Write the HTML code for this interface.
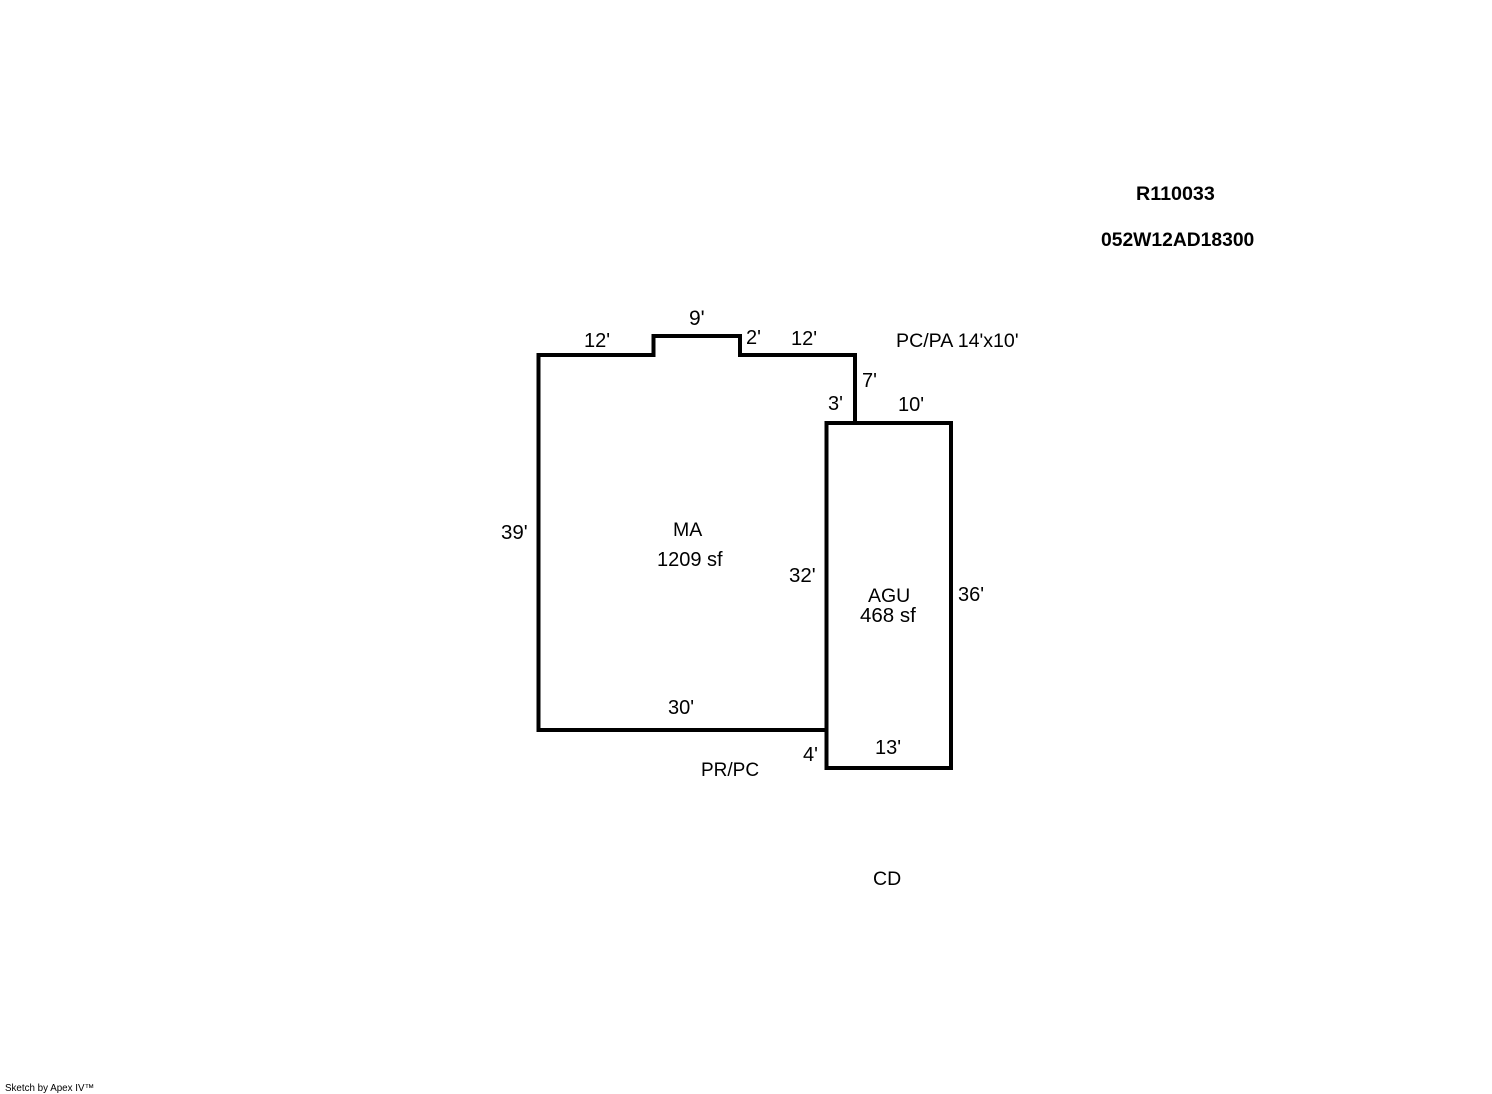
<!DOCTYPE html>
<html>
<head>
<meta charset="utf-8">
<style>
html,body{margin:0;padding:0;background:#fff;width:1492px;height:1094px;overflow:hidden}
svg{display:block}
text{font-family:"Liberation Sans",Arial,sans-serif;font-size:20px;fill:#000}
</style>
</head>
<body>
<svg width="1492" height="1094" viewBox="0 0 1492 1094" xmlns="http://www.w3.org/2000/svg">
<rect width="1492" height="1094" fill="#fff"/>
<g fill="none" stroke="#000" stroke-width="4" stroke-linejoin="miter" shape-rendering="crispEdges">
<path d="M826 730H538.500V355H653.500V336H740V355H855V423"/>
<path d="M826.500 423H951V768H826.500Z"/>
</g>
<text x="1136" y="200" style="font-weight:bold;font-size:19.700px">R110033</text>
<text x="1101" y="246" style="font-weight:bold;font-size:19.300px">052W12AD18300</text>
<text x="584" y="347">12'</text>
<text x="689" y="325" style="font-size:21px">9'</text>
<text x="746" y="344">2'</text>
<text x="791" y="345">12'</text>
<text x="896" y="347" style="font-size:19.600px">PC/PA 14'x10'</text>
<text x="862" y="387">7'</text>
<text x="828" y="410">3'</text>
<text x="898" y="411">10'</text>
<text x="501" y="539" style="font-size:20.500px">39'</text>
<text x="673" y="536" style="font-size:19.500px">MA</text>
<text x="657" y="566">1209 sf</text>
<text x="789" y="582" style="font-size:20.500px">32'</text>
<text x="868" y="602" style="font-size:19.500px">AGU</text>
<text x="860" y="622" style="font-size:20.500px">468 sf</text>
<text x="958" y="601">36'</text>
<text x="668" y="714">30'</text>
<text x="875" y="754">13'</text>
<text x="803" y="761">4'</text>
<text x="701" y="776" style="font-size:19px">PR/PC</text>
<text x="873" y="885" style="font-size:19.500px">CD</text>
<text x="5" y="1091" style="font-size:9.800px">Sketch by Apex IV™</text>
</svg>
</body>
</html>
